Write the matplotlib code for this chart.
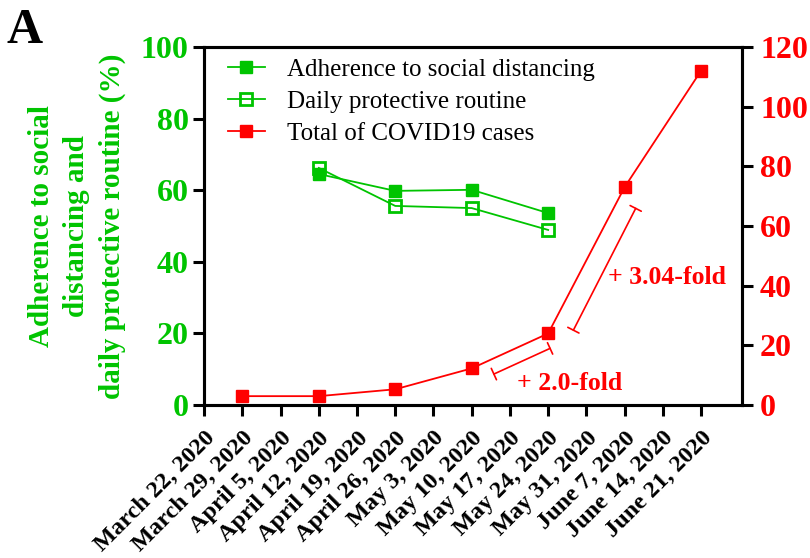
import matplotlib
matplotlib.use("Agg")
import matplotlib.pyplot as plt
import numpy as np

plt.rcParams['font.family'] = ['Liberation Serif', 'DejaVu Serif']

week_labels = ["March 22, 2020", "March 29, 2020", "April 5, 2020", "April 12, 2020",
               "April 19, 2020", "April 26, 2020", "May 3, 2020", "May 10, 2020",
               "May 17, 2020", "May 24, 2020", "May 31, 2020", "June 7, 2020",
               "June 14, 2020", "June 21, 2020"]

survey_dates = ["April 12, 2020", "April 26, 2020", "May 10, 2020", "May 24, 2020"]
adherence = [64.5, 59.8, 60.1, 53.6]
protective = [66.2, 55.6, 55.0, 48.9]

case_dates = ["March 29, 2020", "April 12, 2020", "April 26, 2020", "May 10, 2020",
              "May 24, 2020", "June 7, 2020", "June 21, 2020"]
cases = [3.0, 3.0, 5.3, 12.3, 24.0, 73.0, 112.0]

GREEN = '#00C400'
RED = '#FF0000'

xs_survey = [week_labels.index(d) for d in survey_dates]
xs_cases = [week_labels.index(d) for d in case_dates]

fig = plt.figure(figsize=(8.10, 5.58), dpi=100)
ax = fig.add_axes([0.252, 0.274, 0.664, 0.642])
ax2 = ax.twinx()

l1, = ax.plot(xs_survey, adherence, color=GREEN, lw=1.3, marker='s', ms=9,
              mfc=GREEN, mec=GREEN, label='Adherence to social distancing')
l2, = ax.plot(xs_survey, protective, color=GREEN, lw=1.3, marker='s', ms=9,
              mfc='none', mec=GREEN, mew=2, label='Daily protective routine')
l3, = ax2.plot(xs_cases, cases, color=RED, lw=1.3, marker='s', ms=9,
               mfc=RED, mec=RED, label='Total of COVID19 cases')

ax.set_xlim(0, 14.07)
ax.set_ylim(0, 100)
ax2.set_ylim(0, 120)

ax.set_xticks(range(len(week_labels)))
ax.set_xticklabels(week_labels, rotation=45, ha='right', va='top',
                   rotation_mode='anchor', fontsize=17.5, fontweight='bold')
ax.set_yticks(range(0, 101, 20))
ax2.set_yticks(range(0, 121, 20))

for a in (ax, ax2):
    for s in a.spines.values():
        s.set_linewidth(2.2)
ax.tick_params(axis='both', width=2.2, length=8, direction='out')
ax.tick_params(axis='x', pad=8)
ax2.tick_params(axis='y', width=2.2, length=8, direction='out')
ax.tick_params(axis='y', colors=GREEN, labelcolor=GREEN, labelsize=23, pad=3)
ax.tick_params(axis='y', color='black')
ax2.tick_params(axis='y', labelcolor=RED, labelsize=23, pad=5)
for lab in ax.get_yticklabels() + ax2.get_yticklabels():
    lab.set_fontweight('bold')

ax.set_ylabel("Adherence to social\ndistancing and\ndaily protective routine (%)",
              color=GREEN, fontsize=21, fontweight='bold', linespacing=1.38, labelpad=11)

leg = ax.legend(handles=[l1, l2, l3], loc='upper left', frameon=False, fontsize=18,
                bbox_to_anchor=(0.045, 0.968), handlelength=1.45, handletextpad=0.9,
                labelspacing=0.38, borderaxespad=0.0, borderpad=0.0)

arrow = dict(arrowstyle='|-|,widthA=0.45,widthB=0.45', color=RED, lw=1.2,
             shrinkA=0, shrinkB=0)
ax2.annotate('', xy=(9.05, 19.0), xytext=(7.58, 10.4), arrowprops=arrow)
ax2.annotate('', xy=(11.29, 65.9), xytext=(9.66, 25.1), arrowprops=arrow)
ax2.text(9.56, 7.4, '+ 2.0-fold', color=RED, fontsize=18.5, fontweight='bold',
         ha='center', va='center')
ax2.text(12.12, 42.9, '+ 3.04-fold', color=RED, fontsize=18.5, fontweight='bold',
         ha='center', va='center')

fig.text(0.008, 0.945, 'A', fontsize=36, fontweight='bold', ha='left', va='center')

fig.savefig('out.png', dpi=100)
